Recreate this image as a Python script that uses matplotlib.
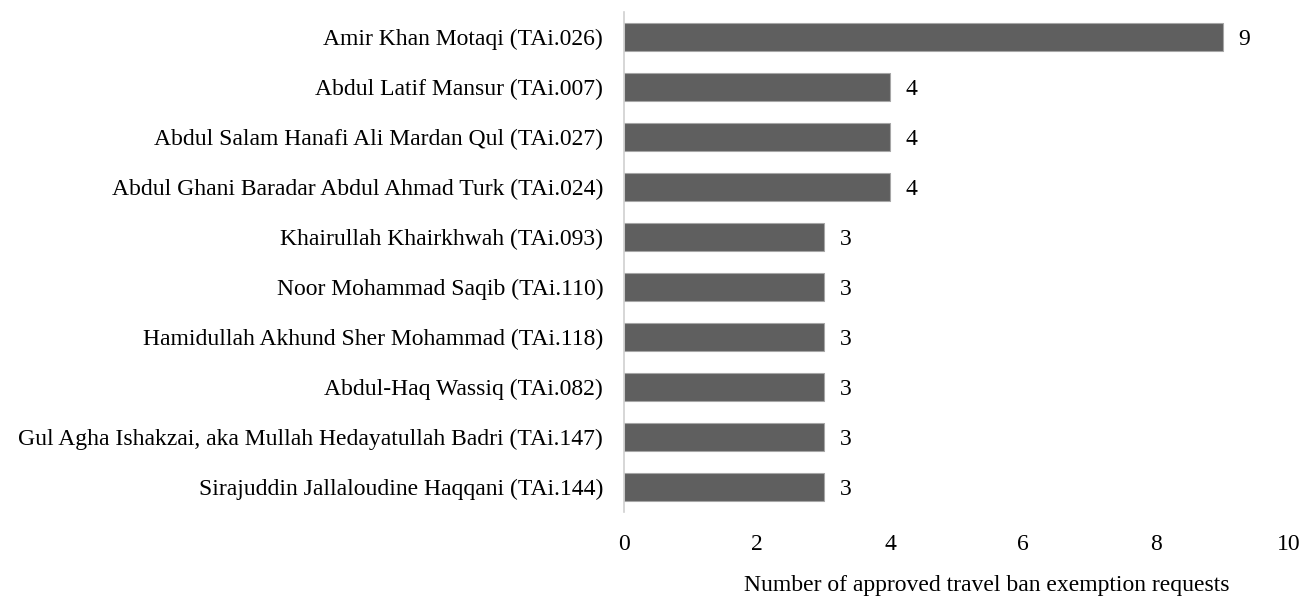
import matplotlib.pyplot as plt

names = [
    "Amir Khan Motaqi (TAi.026)",
    "Abdul Latif Mansur (TAi.007)",
    "Abdul Salam Hanafi Ali Mardan Qul (TAi.027)",
    "Abdul Ghani Baradar Abdul Ahmad Turk (TAi.024)",
    "Khairullah Khairkhwah (TAi.093)",
    "Noor Mohammad Saqib (TAi.110)",
    "Hamidullah Akhund Sher Mohammad (TAi.118)",
    "Abdul-Haq Wassiq (TAi.082)",
    "Gul Agha Ishakzai, aka Mullah Hedayatullah Badri (TAi.147)",
    "Sirajuddin Jallaloudine Haqqani (TAi.144)",
]
counts = [9, 4, 4, 4, 3, 3, 3, 3, 3, 3]
xticks = [0, 2, 4, 6, 8, 10]

plt.rcParams['font.family'] = ['Liberation Serif', 'DejaVu Serif']
plt.rcParams['font.size'] = 17

fig = plt.figure(figsize=(13.01, 5.96), dpi=100)
ax = fig.add_axes([624 / 1301, 1 - 512 / 596, 665 / 1301, 500 / 596])

ypos = list(range(len(names)))
ax.barh(ypos, counts, height=0.56, color='#5f5f5f', edgecolor='#a6a6a6', linewidth=0.8)
for y, v in zip(ypos, counts):
    ax.text(v + 0.24, y, str(v), va='center_baseline', ha='left')

ax.set_ylim(len(names) - 0.5, -0.5)
ax.set_xlim(0, 10)
ax.set_yticks(ypos)
ax.set_yticklabels(names)
ax.set_xticks(xticks)
ax.tick_params(axis='both', length=0)
ax.tick_params(axis='x', pad=16)
ax.tick_params(axis='y', pad=15)

for s in ['top', 'right', 'bottom']:
    ax.spines[s].set_visible(False)
ax.spines['left'].set_color('#d0d0d0')
ax.spines['left'].set_linewidth(1.2)

ax.set_xlabel("Number of approved travel ban exemption requests")
ax.xaxis.set_label_coords((987 - 624) / 665, -0.125)

fig.savefig('out.png', dpi=100)
